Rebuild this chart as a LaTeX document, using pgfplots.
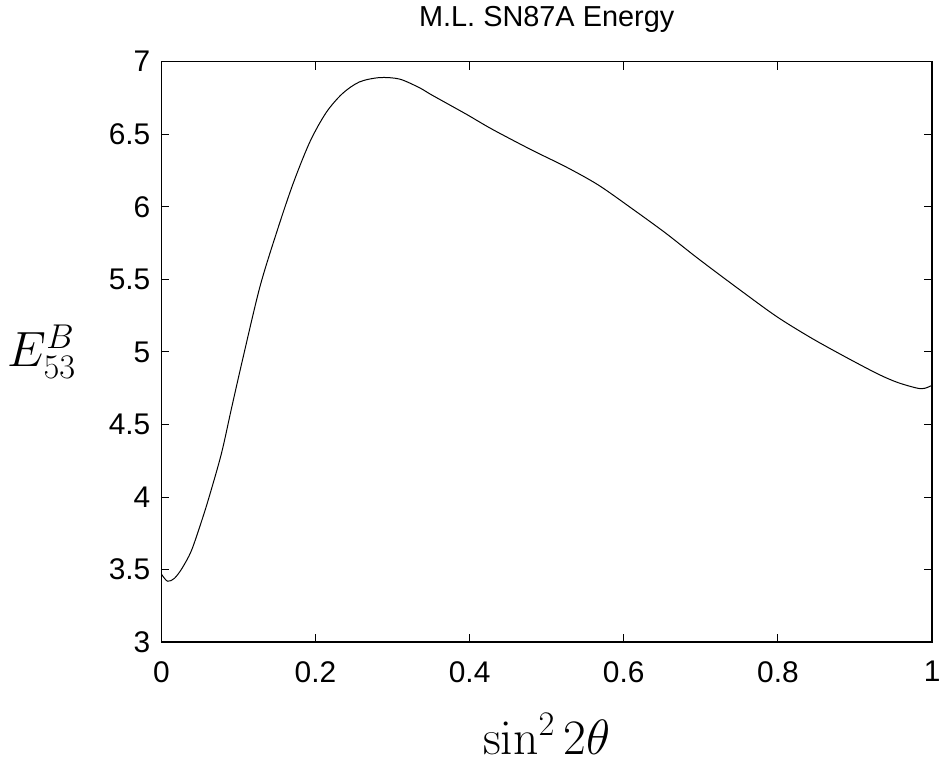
\documentclass[border=0pt]{standalone}
\usepackage[no-math]{fontspec}
\setmainfont{Liberation Sans}
\usepackage{pgfplots}
\pgfplotsset{compat=1.18}

\begin{document}
\begin{tikzpicture}
\begin{axis}[
  scale only axis, width=387pt, height=291.5pt,
  xmin=0, xmax=1, ymin=3, ymax=7,
  xtick={0,0.2,...,1}, ytick={3,3.5,...,7},
  tick align=inside, major tick length=4pt,
  tick style={black, line width=0.5pt},
  axis line style={line width=0.8pt},
  /pgf/number format/assume math mode=true,
  ticklabel style={font=\fontsize{15}{18}\selectfont},
  xticklabel style={yshift=-6pt},
  yticklabel style={xshift=-2pt},
  title={M.L. SN87A Energy},
  title style={font=\fontsize{14.5}{17}\selectfont, at={(axis description cs:0.5,1)}, anchor=base, yshift=11.5pt},
  xlabel={$\sin^2 2\theta$},
  xlabel style={font=\fontsize{23}{27}\selectfont, at={(axis description cs:0.5,-0.158)}, anchor=center},
  ylabel={$E_{53}^{B}$},
  ylabel style={font=\fontsize{25}{29}\selectfont, rotate=-90, at={(axis description cs:-0.155,0.5)}, anchor=center},
]
\addplot[black, line width=0.5pt, smooth, tension=0.5] coordinates {
(0.000,3.47)(0.008,3.42)(0.017,3.44)(0.027,3.51)(0.039,3.63)(0.052,3.83)
(0.062,4.00)(0.078,4.30)(0.091,4.61)(0.106,4.96)(0.128,5.45)(0.150,5.83)
(0.171,6.16)(0.193,6.45)(0.214,6.65)(0.235,6.78)(0.257,6.86)(0.283,6.89)
(0.309,6.88)(0.335,6.82)(0.351,6.77)(0.395,6.64)(0.429,6.535)(0.481,6.39)
(0.525,6.275)(0.567,6.15)(0.610,5.99)(0.654,5.82)(0.696,5.645)(0.750,5.43)
(0.798,5.245)(0.842,5.10)(0.886,4.97)(0.929,4.85)(0.955,4.79)(0.981,4.75)
(0.991,4.75)(1.000,4.77)
};
\end{axis}
\useasboundingbox (-81pt,-59.5pt) rectangle (392.5pt,321.5pt);
\end{tikzpicture}
\end{document}
